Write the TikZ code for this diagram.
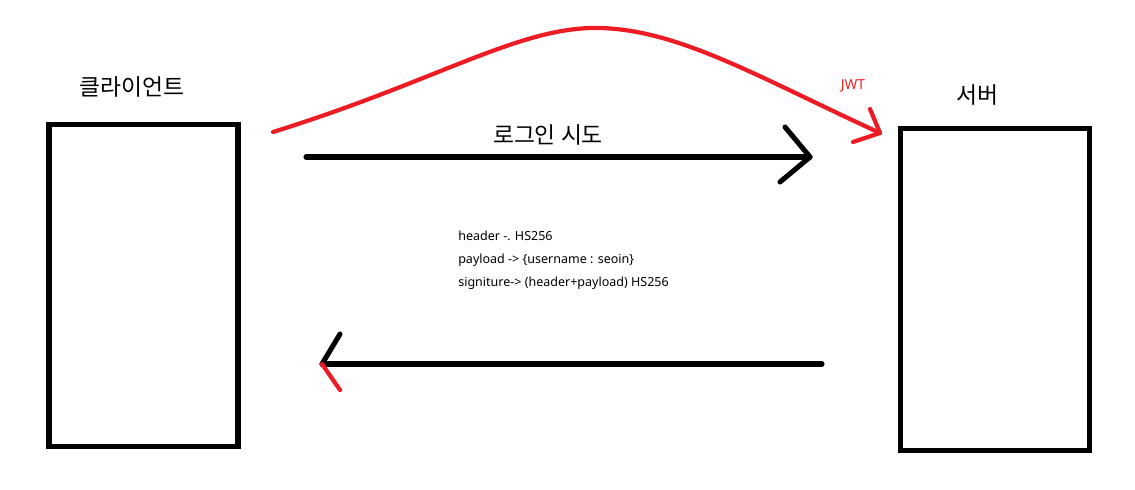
\documentclass[tikz,border=0pt]{standalone}
\usepackage{fontspec}
\setmainfont{Noto Sans}
\newfontfamily\kr{Noto Sans CJK KR}
\definecolor{paintred}{RGB}{237,28,36}
\tikzset{
  box/.style={draw,line width=3.6pt,minimum width=4.725cm,minimum height=8.025cm,inner sep=0pt},
  stroke/.style={line width=3.6pt,line cap=round,line join=round},
  redstroke/.style={paintred,line width=3pt,line cap=round,line join=round},
  krlabel/.style={font=\kr\fontsize{16.2}{19}\selectfont},
  small/.style={font=\fontsize{8.9}{10}\selectfont,anchor=base west,inner sep=0pt}
}
\begin{document}
\begin{tikzpicture}[x=0.025cm,y=-0.025cm]
\useasboundingbox (0,0) rectangle (1135,489);
% boxes
\node[box] (client) at (143.5,285.5) {};
\node[box] (server) at (995,289.5) {};
\node[krlabel] (clientlabel) at (132,87) {클라이언트};
\node[krlabel] (serverlabel) at (977,95) {서버};
% login arrow
\coordinate (loginstart) at (306,157);
\coordinate (logintip) at (810,157);
\coordinate (loginup) at (785,127);
\coordinate (logindown) at (780,182);
\draw[stroke] (loginstart) -- (logintip);
\draw[stroke] (loginup) -- (logintip) -- (logindown);
\node[krlabel] (login) at (548,135) {로그인 시도};
% jwt curve
\coordinate (jwtstart) at (273,132);
\coordinate (jwtpeak) at (600,28);
\coordinate (jwttip) at (880,133);
\coordinate (jwtup) at (870,109);
\coordinate (jwtdown) at (853,142);
\draw[redstroke] (jwtstart) .. controls (440,80) and (520,26) .. (jwtpeak)
  .. controls (680,30) and (760,78) .. (jwttip);
\draw[redstroke] (jwtup) -- (jwttip) -- (jwtdown);
\node[text=paintred,font=\fontsize{9.8}{11}\selectfont] (jwt) at (853,86) {JWT};
% token text
\node[small] (header) at (458,240) {header -. HS256};
\node[small] (payload) at (458,263) {payload -> \{username : seoin\}};
\node[small] (signiture) at (458,286) {signiture-> (header+payload) HS256};
% back arrow
\coordinate (backstart) at (822,364);
\coordinate (backtip) at (322,364);
\coordinate (backup) at (340,334);
\coordinate (backdown) at (340,390);
\draw[stroke] (backstart) -- (backtip);
\draw[stroke] (backup) -- (backtip);
\draw[redstroke] (backtip) -- (backdown);
\end{tikzpicture}
\end{document}
